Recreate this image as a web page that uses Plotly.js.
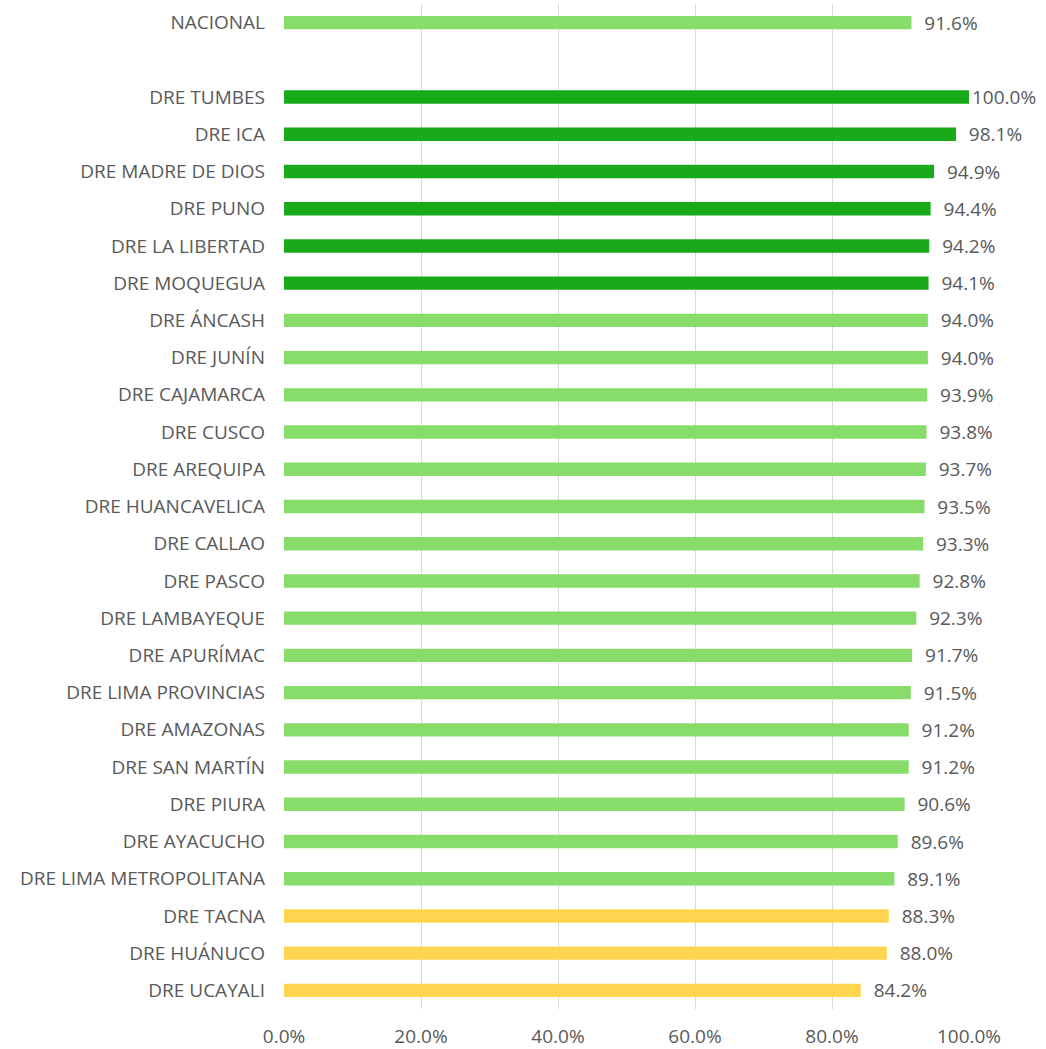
<!DOCTYPE html>
<html>
<head>
<meta charset="utf-8">
<script src="https://cdn.plot.ly/plotly-3.0.1.min.js"></script>
<style>html,body{margin:0;padding:0;background:#fff;}#chart{width:1046px;height:1049px;}</style>
</head>
<body>
<div id="chart"></div>
<script>
const categories = ["NACIONAL", " ", "DRE TUMBES", "DRE ICA", "DRE MADRE DE DIOS", "DRE PUNO", "DRE LA LIBERTAD", "DRE MOQUEGUA", "DRE ÁNCASH", "DRE JUNÍN", "DRE CAJAMARCA", "DRE CUSCO", "DRE AREQUIPA", "DRE HUANCAVELICA", "DRE CALLAO", "DRE PASCO", "DRE LAMBAYEQUE", "DRE APURÍMAC", "DRE LIMA PROVINCIAS", "DRE AMAZONAS", "DRE SAN MARTÍN", "DRE PIURA", "DRE AYACUCHO", "DRE LIMA METROPOLITANA", "DRE TACNA", "DRE HUÁNUCO", "DRE UCAYALI"];
const values = [91.6, null, 100.0, 98.1, 94.9, 94.4, 94.2, 94.1, 94.0, 94.0, 93.9, 93.8, 93.7, 93.5, 93.3, 92.8, 92.3, 91.7, 91.5, 91.2, 91.2, 90.6, 89.6, 89.1, 88.3, 88.0, 84.2];
const groups = ["medio", "", "alto", "alto", "alto", "alto", "alto", "alto", "medio", "medio", "medio", "medio", "medio", "medio", "medio", "medio", "medio", "medio", "medio", "medio", "medio", "medio", "medio", "medio", "bajo", "bajo", "bajo"];
const xTicks = [0, 20, 40, 60, 80, 100];

const palette = {alto: "#19AA19", medio: "#88DD6A", bajo: "#FFD54F", "": "rgba(0,0,0,0)"};
const font = "'Open Sans', 'Liberation Sans', sans-serif";

const trace = {
  type: "bar",
  orientation: "h",
  y: categories,
  x: values,
  marker: {color: groups.map(g => palette[g])},
  text: values.map(v => v === null ? "" : (v >= 100 ? "" : "\u00a0\u00a0") + v.toFixed(1) + "%"),
  textposition: "outside",
  constraintext: "none",
  cliponaxis: false,
  textfont: {family: font, size: 19, color: "#595959"},
  hoverinfo: "none"
};

const layout = {
  width: 1046, height: 1049,
  margin: {l: 284, r: 77, t: 4, b: 40},
  paper_bgcolor: "#fff", plot_bgcolor: "#fff",
  bargap: 0.64,
  showlegend: false,
  font: {family: font, size: 19, color: "#595959"},
  xaxis: {
    range: [0, 100],
    tickvals: xTicks,
    ticktext: xTicks.map(v => v.toFixed(1) + "%"),
    showgrid: true, gridcolor: "#D9D9D9", gridwidth: 1,
    zeroline: false, showline: false,
    tickfont: {family: font, size: 19, color: "#595959"},
    ticks: "", ticklabelstandoff: 14
  },
  yaxis: {
    type: "category",
    categoryorder: "array",
    categoryarray: categories,
    autorange: "reversed",
    showgrid: false, zeroline: false, showline: false,
    ticks: "", ticklabelstandoff: 18,
    tickfont: {family: font, size: 19, color: "#595959"}
  }
};

Plotly.newPlot("chart", [trace], layout, {displayModeBar: false, staticPlot: true});
</script>
</body>
</html>
